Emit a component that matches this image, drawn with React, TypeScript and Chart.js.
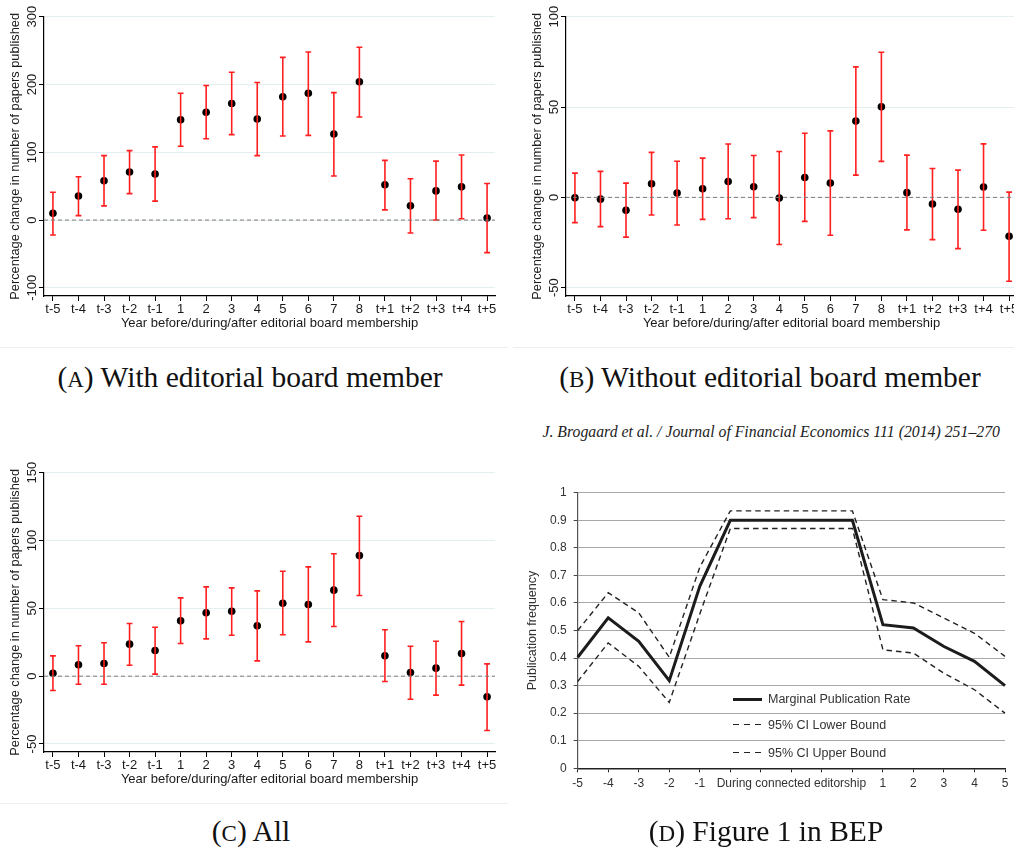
import React, { useEffect, useRef } from 'react';
import { Chart, registerables } from 'chart.js';
Chart.register(...registerables);

const SANS = "'Liberation Sans', Arial, Helvetica, sans-serif";
const SERIF = "'Liberation Serif', 'Times New Roman', serif";

// ---------- shared categories for panels A–C ----------
const CATS = ['t-5', 't-4', 't-3', 't-2', 't-1', '1', '2', '3', '4', '5', '6', '7', '8', 't+1', 't+2', 't+3', 't+4', 't+5'];
const X_TITLE = 'Year before/during/after editorial board membership';
const Y_TITLE = 'Percentage change in number of papers published';

// ---------- Panel A: with editorial board member ----------
const A_EST = [10, 35.5, 58, 71, 68, 148, 159, 172, 149, 182, 187, 127, 204, 52, 21, 43, 49, 3];
const A_LO = [-22, 6.5, 21, 39, 28, 109, 120, 126, 95, 124, 125, 65, 152, 15, -19, 0, 2, -48];
const A_HI = [41, 64, 95, 102.5, 108, 187, 198.5, 218, 203, 240, 248, 188, 255, 88, 61, 87, 96, 54];
const A_TICKS = [-100, 0, 100, 200, 300];

// ---------- Panel B: without editorial board member ----------
const B_EST = [-0.2, -1, -7.2, 7.5, 2.4, 4.8, 8.8, 5.9, -0.4, 11, 7.9, 42.2, 50.1, 2.6, -3.7, -6.6, 5.7, -21.5];
const B_LO = [-14, -16.2, -22, -9.8, -15.3, -12.2, -11.8, -11.2, -26.1, -13.3, -21, 12.3, 19.9, -18, -23.4, -28.4, -18.2, -46.4];
const B_HI = [13.4, 14.4, 7.9, 24.9, 20, 21.7, 29.5, 23.2, 25.4, 35.5, 36.8, 72.2, 80.3, 23.4, 16, 15.1, 29.6, 2.9];
const B_TICKS = [-50, 0, 50, 100];

// ---------- Panel C: all ----------
const C_EST = [2.2, 8.4, 9.3, 23.6, 18.9, 40.8, 46.7, 47.9, 37.1, 53.8, 52.8, 63.4, 88.9, 15, 2.7, 5.9, 16.7, -15.2];
const C_LO = [-10.6, -5.9, -5.9, 8.1, 1.5, 24.1, 27.5, 30.2, 11.3, 30.5, 25.3, 36.6, 59.5, -3.9, -17, -14, -6.6, -40];
const C_HI = [15, 22.4, 24.6, 38.8, 36.1, 57.7, 65.8, 65.1, 62.9, 77.4, 80.6, 90.2, 117.9, 34.2, 22.1, 25.8, 40.3, 9.1];
const C_TICKS = [-50, 0, 50, 100, 150];

// ---------- Panel D: Figure 1 in BEP ----------
const D_LABELS = ['-5', '-4', '-3', '-2', '-1', '', '', 'During connected editorship', '', '', '1', '2', '3', '4', '5'];
const D_RATE = [0.403, 0.546, 0.461, 0.318, 0.66, 0.9, 0.9, 0.9, 0.9, 0.9, 0.521, 0.509, 0.442, 0.388, 0.3];
const D_LOWER = [0.315, 0.455, 0.37, 0.239, 0.56, 0.87, 0.87, 0.87, 0.87, 0.87, 0.43, 0.418, 0.345, 0.285, 0.2];
const D_UPPER = [0.5, 0.637, 0.564, 0.403, 0.73, 0.934, 0.934, 0.934, 0.934, 0.934, 0.612, 0.6, 0.545, 0.49, 0.406];
const D_TICKS = [0, 0.1, 0.2, 0.3, 0.4, 0.5, 0.6, 0.7, 0.8, 0.9, 1];
const D_SERIES = ['Marginal Publication Rate', '95% CI Lower Bound', '95% CI Upper Bound'];

const X_MIN = -0.35;
const X_MAX = 17.31;

const rotatedYLabels = {
  id: 'rotatedYLabels',
  afterDraw(chart: any, _args: any, opts: any) {
    if (!opts || !opts.enabled) return;
    const s = chart.scales.y;
    const ctx = chart.ctx;
    ctx.save();
    ctx.font = `${opts.size}px ${SANS}`;
    ctx.fillStyle = opts.color;
    ctx.textAlign = 'center';
    ctx.textBaseline = 'middle';
    s.ticks.forEach((t: any) => {
      const y = s.getPixelForValue(t.value);
      ctx.save();
      ctx.translate(opts.x, y);
      ctx.rotate(-Math.PI / 2);
      ctx.fillText(String(t.value), 0, 0);
      ctx.restore();
    });
    ctx.restore();
  },
};

type PanelProps = {
  left: number;
  top: number;
  est: number[];
  lo: number[];
  hi: number[];
  ticks: number[];
  ymin: number;
  ymax: number;
};

function ErrorPanel({ left, top, est, lo, hi, ticks, ymin, ymax }: PanelProps) {
  const ref = useRef<HTMLCanvasElement>(null);
  useEffect(() => {
    if (!ref.current) return;
    const ci: any[] = [];
    est.forEach((_, i) => {
      ci.push({ x: i, y: lo[i] }, { x: i, y: hi[i] }, { x: i, y: null });
    });
    const chart = new Chart(ref.current, {
      type: 'scatter',
      data: {
        datasets: [
          {
            data: [{ x: X_MIN, y: 0 }, { x: X_MAX, y: 0 }],
            showLine: true,
            borderColor: '#7a7a7a',
            borderWidth: 1,
            borderDash: [4, 3],
            pointRadius: 0,
          },
          {
            data: ci,
            showLine: true,
            spanGaps: false,
            borderColor: '#ff1f1f',
            borderWidth: 1.6,
            pointStyle: 'line',
            pointRadius: 2.9,
            pointBorderColor: '#ff1f1f',
            pointBorderWidth: 1.6,
          },
          {
            data: est.map((v, i) => ({ x: i, y: v })),
            pointRadius: 3.8,
            pointBackgroundColor: '#000',
            pointBorderColor: '#000',
            pointBorderWidth: 0,
          },
        ],
      } as any,
      options: {
        responsive: false,
        animation: false,
        layout: { padding: { left: 0, right: 15, top: 16.7, bottom: 0 } },
        plugins: {
          legend: { display: false },
          tooltip: { enabled: false },
          rotatedYLabels: { enabled: true, x: 32, size: 13, color: '#1a1a1a' },
        } as any,
        scales: {
          x: {
            type: 'linear',
            min: X_MIN,
            max: X_MAX,
            afterBuildTicks: (s: any) => {
              s.ticks = CATS.map((_, i) => ({ value: i }));
            },
            afterFit: (s: any) => {
              s.height = 44;
            },
            ticks: {
              callback: (v: any) => CATS[Math.round(Number(v))],
              autoSkip: false,
              maxRotation: 0,
              minRotation: 0,
              padding: 1,
              color: '#1a1a1a',
              font: { family: SANS, size: 13 },
            },
            grid: { drawOnChartArea: false, drawTicks: true, tickLength: 5, tickColor: '#000', color: '#000' },
            border: { color: '#000', width: 1.2 },
            title: {
              display: true,
              text: X_TITLE,
              color: '#1a1a1a',
              font: { family: SANS, size: 13 },
              padding: { top: 0, bottom: 8.5 },
            },
          },
          y: {
            type: 'linear',
            min: ymin,
            max: ymax,
            afterBuildTicks: (s: any) => {
              s.ticks = ticks.map((v) => ({ value: v }));
            },
            afterFit: (s: any) => {
              s.width = 44;
            },
            ticks: { display: false },
            grid: { color: '#e4eef1', lineWidth: 1, drawTicks: true, tickLength: 5, tickColor: '#000' },
            border: { color: '#000', width: 1.2 },
            title: {
              display: true,
              text: Y_TITLE,
              color: '#1a1a1a',
              font: { family: SANS, size: 12.8 },
              padding: { top: 7.3, bottom: 0 },
            },
          },
        },
      } as any,
      plugins: [rotatedYLabels as any],
    });
    return () => chart.destroy();
  }, []);
  return (
    <canvas
      ref={ref}
      width={510}
      height={340}
      style={{ position: 'absolute', left, top, width: 510, height: 340 }}
    />
  );
}

function BepPanel() {
  const ref = useRef<HTMLCanvasElement>(null);
  useEffect(() => {
    if (!ref.current) return;
    const chart = new Chart(ref.current, {
      type: 'line',
      data: {
        labels: D_LABELS,
        datasets: [
          { label: D_SERIES[0], data: D_RATE, borderColor: '#1c1c1c', borderWidth: 3, pointRadius: 0, tension: 0 },
          { label: D_SERIES[1], data: D_LOWER, borderColor: '#222', borderWidth: 1.4, borderDash: [5.5, 4], pointRadius: 0, tension: 0 },
          { label: D_SERIES[2], data: D_UPPER, borderColor: '#222', borderWidth: 1.4, borderDash: [5.5, 4], pointRadius: 0, tension: 0 },
        ],
      },
      options: {
        responsive: false,
        animation: false,
        layout: { padding: { left: 0, right: 9, top: 22.7, bottom: 0 } },
        plugins: { legend: { display: false }, tooltip: { enabled: false } },
        scales: {
          x: {
            type: 'category',
            offset: false,
            afterFit: (s: any) => {
              s.height = 31.7;
            },
            ticks: {
              autoSkip: false,
              maxRotation: 0,
              minRotation: 0,
              padding: 4,
              color: '#333',
              font: { family: SANS, size: 12 },
            },
            grid: { drawOnChartArea: false, drawTicks: true, tickLength: 4, tickColor: '#222', color: '#222' },
            border: { color: '#222', width: 1.5 },
          },
          y: {
            type: 'linear',
            min: 0,
            max: 1,
            afterBuildTicks: (s: any) => {
              s.ticks = D_TICKS.map((v) => ({ value: v }));
            },
            afterFit: (s: any) => {
              s.width = 72.7;
            },
            ticks: {
              padding: 7,
              color: '#333',
              font: { family: SANS, size: 12 },
              callback: (v: any) => {
                const n = Number(v);
                return n === 0 || n === 1 ? String(n) : n.toFixed(1);
              },
            },
            grid: { color: '#a8a8a8', lineWidth: 1, drawTicks: true, tickLength: 4, tickColor: '#444' },
            border: { color: '#555', width: 1.2 },
            title: {
              display: true,
              text: 'Publication frequency',
              color: '#333',
              font: { family: SANS, size: 12.5 },
              padding: { top: 20.2, bottom: 0 },
            },
          },
        },
      } as any,
    });
    return () => chart.destroy();
  }, []);

  const legendRows = [
    { label: D_SERIES[0], y: 699, dash: false },
    { label: D_SERIES[1], y: 724.5, dash: true },
    { label: D_SERIES[2], y: 752.5, dash: true },
  ];

  return (
    <>
      <canvas
        ref={ref}
        width={509}
        height={330}
        style={{ position: 'absolute', left: 505, top: 470, width: 509, height: 330 }}
      />
      {legendRows.map((r) => (
        <React.Fragment key={r.label}>
          <div
            style={
              r.dash
                ? {
                    position: 'absolute',
                    left: 733,
                    top: r.y - 0.8,
                    width: 29,
                    height: 1.6,
                    background: 'repeating-linear-gradient(to right, #222 0px, #222 6.5px, transparent 6.5px, transparent 11px)',
                  }
                : {
                    position: 'absolute',
                    left: 733,
                    top: r.y - 1.5,
                    width: 29,
                    height: 3,
                    background: '#1c1c1c',
                  }
            }
          />
          <div
            style={{
              position: 'absolute',
              left: 768,
              top: r.y - 9,
              height: 18,
              lineHeight: '18px',
              fontFamily: SANS,
              fontSize: 12.5,
              color: '#333',
              whiteSpace: 'nowrap',
            }}
          >
            {r.label}
          </div>
        </React.Fragment>
      ))}
    </>
  );
}

function Caption({ letter, text, cx, cy }: { letter: string; text: string; cx: number; cy: number }) {
  return (
    <div
      style={{
        position: 'absolute',
        left: cx - 260,
        width: 520,
        top: cy - 20,
        height: 40,
        lineHeight: '40px',
        textAlign: 'center',
        fontFamily: SERIF,
        fontSize: 29.5,
        color: '#111',
        whiteSpace: 'nowrap',
      }}
    >
      (<span style={{ fontSize: '0.78em' }}>{letter}</span>) {text}
    </div>
  );
}

export default function App() {
  return (
    <div
      style={{
        position: 'absolute',
        left: 0,
        top: 0,
        width: 1014,
        height: 850,
        overflow: 'hidden',
        background: '#fff',
      }}
    >
      <ErrorPanel left={0} top={0} est={A_EST} lo={A_LO} hi={A_HI} ticks={A_TICKS} ymin={-112} ymax={300} />
      <ErrorPanel left={522} top={0} est={B_EST} lo={B_LO} hi={B_HI} ticks={B_TICKS} ymin={-54.6} ymax={100} />
      <ErrorPanel left={0} top={455.5} est={C_EST} lo={C_LO} hi={C_HI} ticks={C_TICKS} ymin={-55.9} ymax={150} />
      <div style={{ position: 'absolute', left: 0, top: 347, width: 508, height: 0, borderTop: '1px solid #efefef' }} />
      <div style={{ position: 'absolute', left: 513, top: 347, width: 501, height: 0, borderTop: '1px solid #efefef' }} />
      <div style={{ position: 'absolute', left: 0, top: 803, width: 508, height: 0, borderTop: '1px solid #efefef' }} />
      <div
        style={{
          position: 'absolute',
          right: 14,
          top: 422,
          height: 20,
          lineHeight: '20px',
          fontFamily: SERIF,
          fontStyle: 'italic',
          fontSize: 15.8,
          color: '#222',
          whiteSpace: 'nowrap',
        }}
      >
        J. Brogaard et al. / Journal of Financial Economics 111 (2014) 251–270
      </div>
      <BepPanel />
      <Caption letter="A" text="With editorial board member" cx={250} cy={377} />
      <Caption letter="B" text="Without editorial board member" cx={770} cy={377} />
      <Caption letter="C" text="All" cx={251} cy={831} />
      <Caption letter="D" text="Figure 1 in BEP" cx={766} cy={831} />
    </div>
  );
}
